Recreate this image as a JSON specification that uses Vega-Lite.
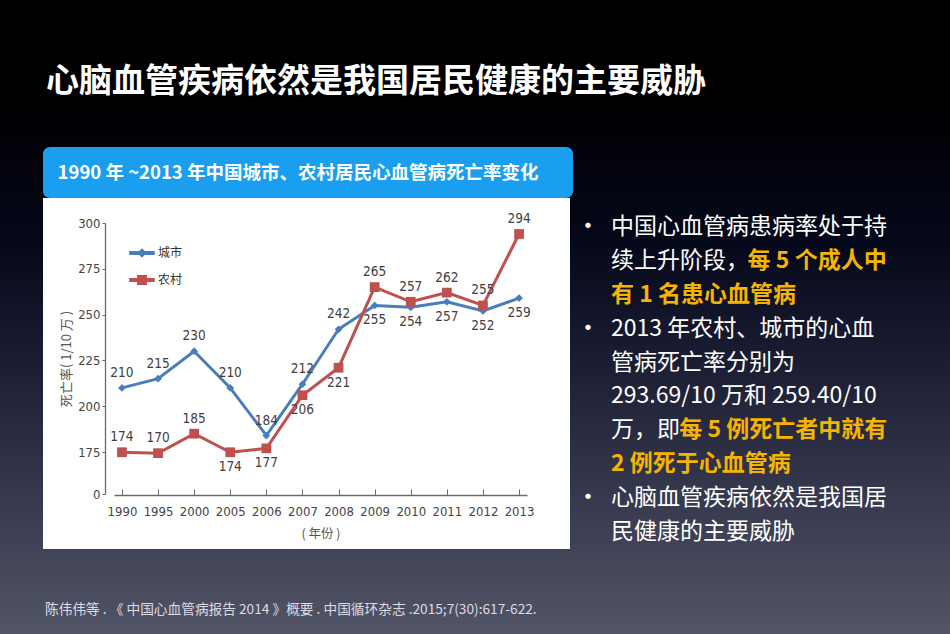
{
  "$schema": "https://vega.github.io/schema/vega-lite/v6.json",
  "padding": 0,
  "background": "#000000",
  "bounds": "flush",
  "columns": 2,
  "spacing": {"column": 38, "row": 0},
  "config": {
    "font": "Noto Sans CJK SC",
    "view": {"stroke": null}
  },
  "concat": [
    {
      "width": 530,
      "height": 51,
      "data": {"values": [{"caption": "1990 年 ~2013 年中国城市、农村居民心血管病死亡率变化"}]},
      "layer": [
        {
          "description": "slide background, drawn first so every later view sits on top of it",
          "mark": {
            "type": "rect",
            "x": -43,
            "y": -147,
            "x2": 907,
            "y2": 487,
            "fill": {
              "gradient": "linear",
              "x1": 0, "y1": 0, "x2": 0, "y2": 1,
              "stops": [
                {"offset": 0, "color": "#000000"},
                {"offset": 0.18, "color": "#000002"},
                {"offset": 0.38, "color": "#05081a"},
                {"offset": 0.58, "color": "#1c1f34"},
                {"offset": 0.78, "color": "#36384d"},
                {"offset": 1, "color": "#525467"}
              ]
            }
          }
        },
        {
          "mark": {"type": "rect", "x": 0, "x2": "width", "y": 0, "y2": "height", "fill": "#1a9ff0", "cornerRadius": 7}
        },
        {
          "mark": {"type": "text", "align": "center", "baseline": "middle", "dx": -10, "font": "Noto Sans CJK SC", "fontSize": 18.5, "fontWeight": "bold", "color": "#ffffff"},
          "encoding": {"text": {"field": "caption"}}
        }
      ]
    },
    {
      "width": 296,
      "height": 51,
      "title": {
        "text": "心脑血管疾病依然是我国居民健康的主要威胁",
        "orient": "top",
        "anchor": "start",
        "frame": "group",
        "offset": 48,
        "dx": -565,
        "font": "Noto Sans CJK SC",
        "fontSize": 33,
        "fontWeight": "bold",
        "color": "#ffffff"
      },
      "data": {
        "values": [
          {"line": 1, "bullet": true, "plain": "中国心血管病患病率处于持", "emph": ""},
          {"line": 2, "bullet": false, "plain": "续上升阶段，", "emph": "每 5 个成人中"},
          {"line": 3, "bullet": false, "plain": "", "emph": "有 1 名患心血管病"},
          {"line": 4, "bullet": true, "plain": "2013 年农村、城市的心血", "emph": ""},
          {"line": 5, "bullet": false, "plain": "管病死亡率分别为", "emph": ""},
          {"line": 6, "bullet": false, "plain": "293.69/10 万和 259.40/10", "emph": ""},
          {"line": 7, "bullet": false, "plain": "万，即", "emph": "每 5 例死亡者中就有"},
          {"line": 8, "bullet": false, "plain": "", "emph": "2 例死于心血管病"},
          {"line": 9, "bullet": true, "plain": "心脑血管疾病依然是我国居", "emph": ""},
          {"line": 10, "bullet": false, "plain": "民健康的主要威胁", "emph": ""}
        ]
      },
      "encoding": {
        "y": {"field": "line", "type": "quantitative", "scale": {"domain": [1, 10], "range": [80, 385]}, "axis": null}
      },
      "layer": [
        {
          "mark": {"type": "text", "align": "left", "baseline": "middle", "font": "Noto Sans CJK SC", "fontSize": 23, "color": "#ffffff"},
          "encoding": {
            "x": {"datum": 0, "type": "quantitative", "scale": {"domain": [0, 12.87]}, "axis": null},
            "text": {"field": "plain"}
          }
        },
        {
          "transform": [{"filter": "datum.bullet"}],
          "mark": {"type": "text", "text": "•", "align": "center", "baseline": "middle", "dx": -23, "font": "Noto Sans CJK SC", "fontSize": 25, "color": "#ffffff"},
          "encoding": {
            "x": {"datum": 0, "type": "quantitative"}
          }
        },
        {
          "transform": [{"filter": "datum.emph !== ''"}, {"calculate": "length(datum.plain)", "as": "lead"}],
          "mark": {"type": "text", "align": "left", "baseline": "middle", "font": "Noto Sans CJK SC", "fontSize": 23, "fontWeight": "bold", "color": "#f5b400"},
          "encoding": {
            "x": {"field": "lead", "type": "quantitative"},
            "text": {"field": "emph"}
          }
        }
      ]
    },
    {
      "width": 527,
      "height": 351,
      "view": {"fill": "#ffffff", "stroke": null},
      "title": {
        "text": "陈伟伟等 . 《 中国心血管病报告 2014 》概要 . 中国循环杂志 .2015;7(30):617-622.",
        "orient": "bottom",
        "anchor": "start",
        "frame": "group",
        "offset": 54,
        "dx": 2,
        "font": "Noto Sans CJK SC",
        "fontSize": 13.7,
        "fontWeight": "normal",
        "color": "#dcdce4"
      },
      "data": {
        "values": [
          {"year": "1990", "series": "城市", "rate": 210},
          {"year": "1995", "series": "城市", "rate": 215},
          {"year": "2000", "series": "城市", "rate": 230},
          {"year": "2005", "series": "城市", "rate": 210},
          {"year": "2006", "series": "城市", "rate": 184},
          {"year": "2007", "series": "城市", "rate": 212},
          {"year": "2008", "series": "城市", "rate": 242},
          {"year": "2009", "series": "城市", "rate": 255},
          {"year": "2010", "series": "城市", "rate": 254},
          {"year": "2011", "series": "城市", "rate": 257},
          {"year": "2012", "series": "城市", "rate": 252},
          {"year": "2013", "series": "城市", "rate": 259},
          {"year": "1990", "series": "农村", "rate": 174},
          {"year": "1995", "series": "农村", "rate": 170},
          {"year": "2000", "series": "农村", "rate": 185},
          {"year": "2005", "series": "农村", "rate": 174},
          {"year": "2006", "series": "农村", "rate": 177},
          {"year": "2007", "series": "农村", "rate": 206},
          {"year": "2008", "series": "农村", "rate": 221},
          {"year": "2009", "series": "农村", "rate": 265},
          {"year": "2010", "series": "农村", "rate": 257},
          {"year": "2011", "series": "农村", "rate": 262},
          {"year": "2012", "series": "农村", "rate": 255},
          {"year": "2013", "series": "农村", "rate": 294}
        ]
      },
      "encoding": {
        "x": {
          "field": "year",
          "type": "ordinal",
          "scale": {"type": "point", "range": [71, 484], "padding": 0.22},
          "axis": {
            "title": "( 年份 )",
            "offset": -54,
            "labelAngle": 0,
            "tickSize": -6,
            "labelPadding": 16,
            "domainColor": "#6b6b6b",
            "tickColor": "#6b6b6b",
            "domainWidth": 1.3,
            "labelFont": "Liberation Sans Narrow, DejaVu Sans Condensed, Liberation Sans, sans-serif",
            "labelFontSize": 13,
            "labelColor": "#454545",
            "titleFont": "Noto Sans CJK SC",
            "titleFontSize": 12.5,
            "titleFontWeight": "normal",
            "titleColor": "#555555",
            "titlePadding": 9,
            "grid": false
          }
        },
        "y": {
          "field": "rate",
          "type": "quantitative",
          "scale": {"domain": [0, 175, 300], "range": [296, 254, 25], "nice": false, "zero": false},
          "axis": {
            "title": "死亡率( 1/10 万 )",
            "values": [0, 175, 200, 225, 250, 275, 300],
            "offset": -62,
            "tickSize": 3,
            "labelPadding": 2,
            "domainColor": "#6b6b6b",
            "tickColor": "#6b6b6b",
            "domainWidth": 1.3,
            "labelFont": "Liberation Sans Narrow, DejaVu Sans Condensed, Liberation Sans, sans-serif",
            "labelFontSize": 13,
            "labelColor": "#454545",
            "titleFont": "Noto Sans CJK SC",
            "titleFontSize": 13,
            "titleFontWeight": "normal",
            "titleColor": "#555555",
            "titlePadding": 4,
            "grid": false
          }
        },
        "color": {
          "field": "series",
          "type": "nominal",
          "scale": {"domain": ["城市", "农村"], "range": ["#4a7ebb", "#c0504d"]},
          "legend": {
            "orient": "none",
            "legendX": 92,
            "legendY": 99,
            "title": null,
            "symbolSize": 144,
            "labelOffset": 9,
            "rowPadding": 12,
            "labelFont": "Noto Sans CJK SC",
            "labelFontSize": 12,
            "labelColor": "#333333",
            "encode": {
              "symbols": {
                "update": {
                  "shape": {"signal": "datum.value === '城市' ? 'M-2,-0.22H2V0.22H-2Z M0,-0.6L0.6,0L0,0.6L-0.6,0Z' : 'M-2,-0.22H2V0.22H-2Z M-0.7,-0.7H0.7V0.7H-0.7Z'"},
                  "fill": {"signal": "scale('color', datum.value)"},
                  "stroke": {"value": "transparent"},
                  "opacity": {"value": 1}
                }
              }
            }
          }
        }
      },
      "layer": [
        {"mark": {"type": "line", "strokeWidth": 3}},
        {
          "transform": [{"filter": "datum.series === '城市'"}],
          "mark": {"type": "point", "shape": "diamond", "filled": true, "size": 60, "opacity": 1}
        },
        {
          "transform": [{"filter": "datum.series === '农村'"}],
          "mark": {"type": "point", "shape": "square", "filled": true, "size": 95, "opacity": 1}
        },
        {
          "transform": [{"filter": "!((datum.series === '城市' && datum.year >= '2009') || (datum.series === '农村' && datum.year >= '2005' && datum.year <= '2008'))"}],
          "mark": {"type": "text", "dy": -15, "baseline": "middle", "font": "Liberation Sans Narrow, DejaVu Sans Condensed, Liberation Sans, sans-serif", "fontSize": 13.5},
          "encoding": {"text": {"field": "rate", "type": "quantitative", "format": "d"}, "color": {"value": "#404040"}}
        },
        {
          "transform": [{"filter": "(datum.series === '城市' && datum.year >= '2009') || (datum.series === '农村' && datum.year >= '2005' && datum.year <= '2008')"}],
          "mark": {"type": "text", "dy": 15, "baseline": "middle", "font": "Liberation Sans Narrow, DejaVu Sans Condensed, Liberation Sans, sans-serif", "fontSize": 13.5},
          "encoding": {"text": {"field": "rate", "type": "quantitative", "format": "d"}, "color": {"value": "#404040"}}
        }
      ]
    }
  ]
}
